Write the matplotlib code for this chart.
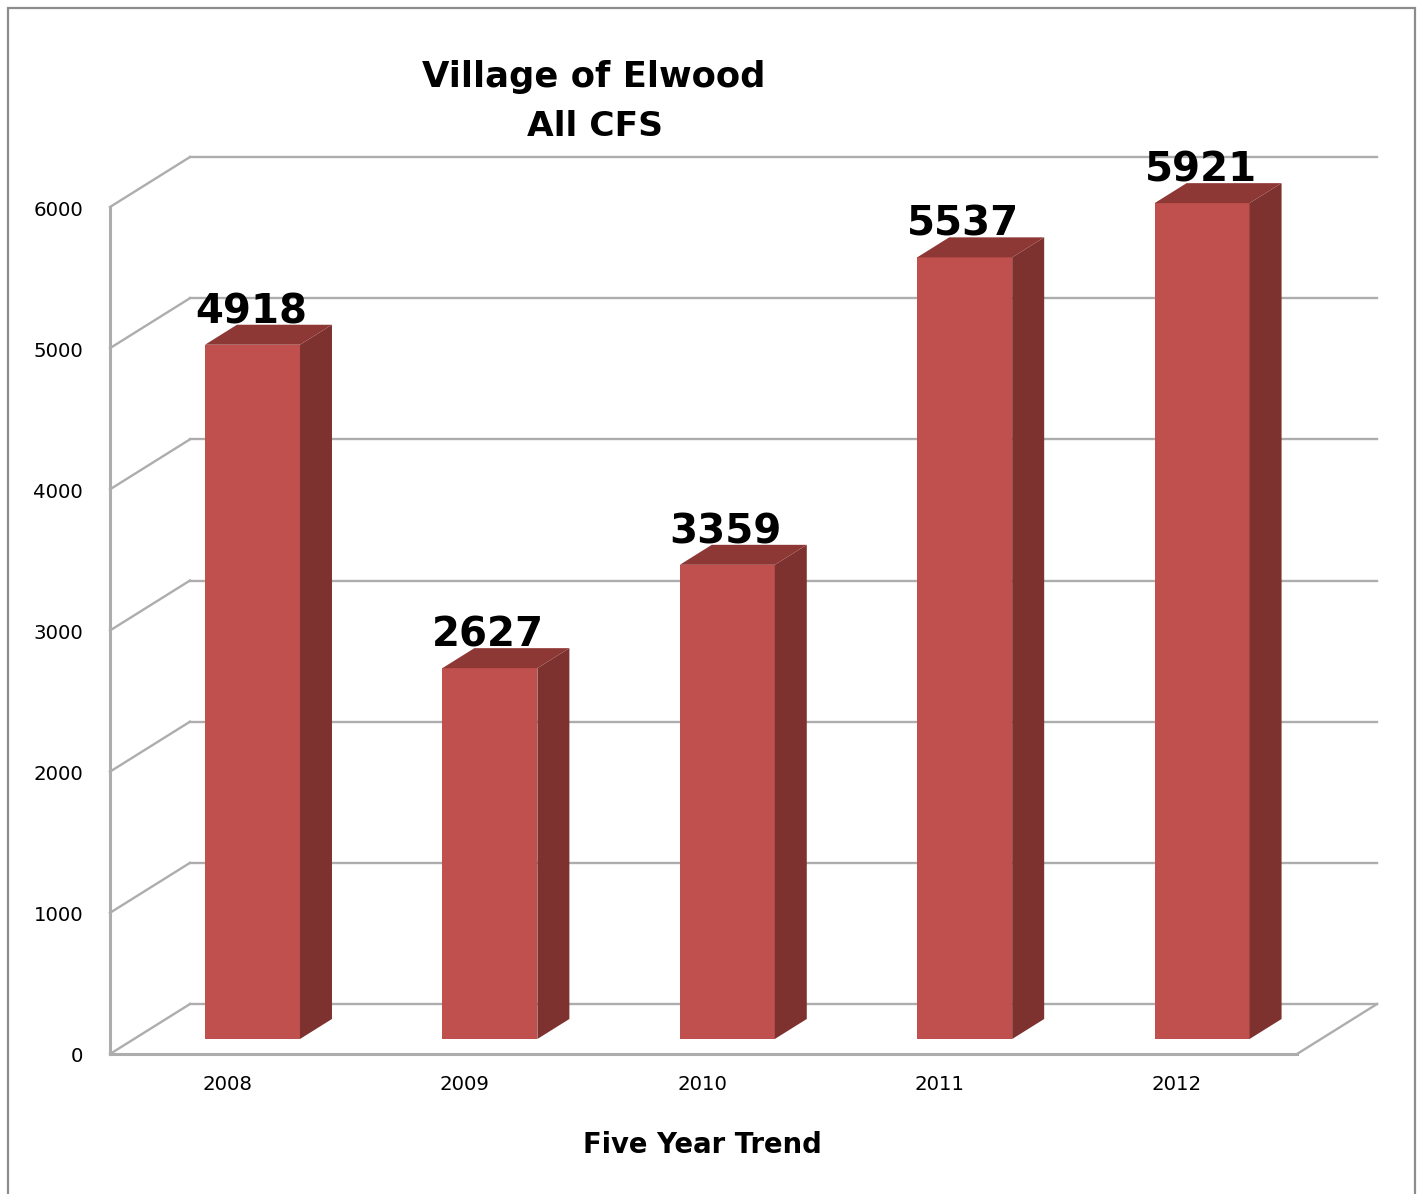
import matplotlib
matplotlib.use("Agg")
import matplotlib.pyplot as plt
from matplotlib.patches import Polygon, Rectangle

years = ["2008", "2009", "2010", "2011", "2012"]
calls = [4918, 2627, 3359, 5537, 5921]
y_ticks = [0, 1000, 2000, 3000, 4000, 5000, 6000]

W, H = 1418, 1194
fig = plt.figure(figsize=(W / 100, H / 100), dpi=100, facecolor="white")

# outer chart border
fig.add_artist(Rectangle((8 / W, -0.02), (1415 - 8) / W, 1.02 - 8 / H, transform=fig.transFigure,
                         fill=False, edgecolor="#8c8c8c", linewidth=1.6))

# axes = front plane of the fake 3d box
L, R, T, B = 110, 1297, 207, 1054
ax = fig.add_axes([L / W, 1 - B / H, (R - L) / W, (B - T) / H])
ax.set_xlim(0, len(years))
ax.set_ylim(0, 6000)
ax.axis("off")

# pixels -> data units
px_x = len(years) / (R - L)
px_y = 6000 / (B - T)
depth_x, depth_y = 80 * px_x, 50 * px_y
grid = "#adadad"

# walls
for v in y_ticks:
    ax.plot([0, depth_x], [v, v + depth_y], color=grid, lw=1.7, clip_on=False, zorder=1)
    ax.plot([depth_x, len(years) + depth_x], [v + depth_y, v + depth_y], color=grid, lw=1.7,
            clip_on=False, zorder=1)
    ax.text(-27 * px_x, v - 3 * px_y, str(v), ha="right", va="center", fontsize=14.2, color="black")
ax.plot([0, 0], [0, 6000], color=grid, lw=2.2, clip_on=False, zorder=2)
ax.plot([0, len(years)], [0, 0], color=grid, lw=2.2, clip_on=False, zorder=2)
ax.plot([len(years), len(years) + depth_x], [0, depth_y], color=grid, lw=1.7, clip_on=False, zorder=2)

# bars
bar_w = 95 * px_x
shift_x, shift_y = 95 * px_x - 0.3, 15 * px_y
off_x, off_y = 32 * px_x, 20 * px_y
for i, (yr, val) in enumerate(zip(years, calls)):
    x0 = i + 0.5 + shift_x - bar_w / 2
    x1 = x0 + bar_w
    y0 = shift_y
    y1 = shift_y + val
    ax.bar(x0, val, width=bar_w, bottom=y0, align="edge", color="#c0504d", zorder=3, clip_on=False)
    ax.add_patch(Polygon([(x1, y0), (x1 + off_x, y0 + off_y), (x1 + off_x, y1 + off_y), (x1, y1)],
                         facecolor="#7d3230", edgecolor="none", zorder=3, clip_on=False))
    ax.add_patch(Polygon([(x0, y1), (x1, y1), (x1 + off_x, y1 + off_y), (x0 + off_x, y1 + off_y)],
                         facecolor="#8e3836", edgecolor="none", zorder=3, clip_on=False))
    ax.text((x0 + x1) / 2 - 1.5 * px_x, y1 + off_y + 1.5 * px_y, str(val), ha="center", va="baseline",
            fontsize=29, fontweight="bold", color="black", zorder=4, clip_on=False)
    ax.text(i + 0.5 - 1.5 * px_x, -30 * px_y, yr, ha="center", va="center", fontsize=14.2, color="black")

# titles and axis label, placed in figure pixels
fig.text(594 / W, 1 - 77 / H, "Village of Elwood", ha="center", va="center", fontsize=25.5, fontweight="bold")
fig.text(595 / W, 1 - 126 / H, "All CFS", ha="center", va="center", fontsize=24.8, fontweight="bold")
fig.text(702 / W, 1 - 1145 / H, "Five Year Trend", ha="center", va="center", fontsize=19.8, fontweight="bold")

fig.savefig("out.png", dpi=100)
